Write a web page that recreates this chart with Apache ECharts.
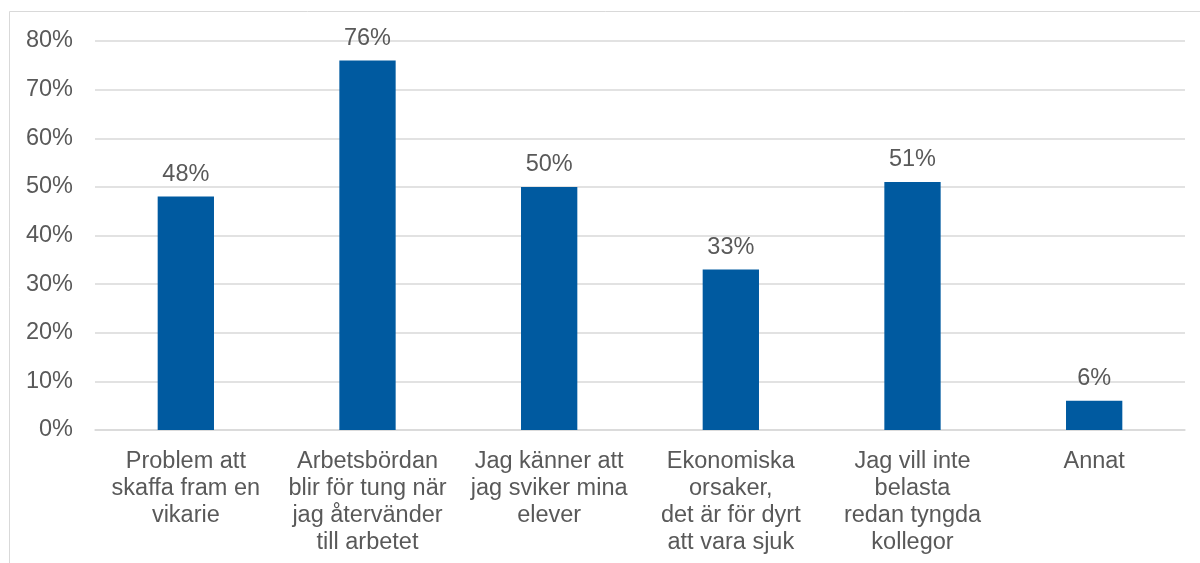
<!DOCTYPE html>
<html>
<head>
<meta charset="utf-8">
<script src="https://cdn.jsdelivr.net/npm/echarts@6/dist/echarts.min.js"></script>
<style>
  html, body { margin: 0; padding: 0; background: #fff; }
  #chart { width: 1200px; height: 563px; }
</style>
</head>
<body>
<div id="chart"></div>
<script>
const categories = [
  'Problem att\nskaffa fram en\nvikarie',
  'Arbetsbördan\nblir för tung när\njag återvänder\ntill arbetet',
  'Jag känner att\njag sviker mina\nelever',
  'Ekonomiska\norsaker,\ndet är för dyrt\natt vara sjuk',
  'Jag vill inte\nbelasta\nredan tyngda\nkollegor',
  'Annat'
]
const values = [48, 76, 50, 33, 51, 6]

const textColor = '#595959'
const font = 'Liberation Sans, Arial, sans-serif'

const chart = echarts.init(document.getElementById('chart'))
chart.setOption({
  animation: false,
  graphic: [{
    type: 'rect',
    shape: { x: 9.5, y: 11.5, width: 1300, height: 700 },
    style: { fill: 'none', stroke: '#d9d9d9', lineWidth: 1 },
    silent: true
  }],
  grid: { left: 95, right: 15, top: 41, bottom: 133 },
  xAxis: {
    type: 'category',
    data: categories,
    axisLine: { lineStyle: { color: '#d9d9d9', width: 1.5 } },
    axisTick: { show: false },
    axisLabel: {
      color: textColor, fontFamily: font, fontSize: 23.5, lineHeight: 27,
      margin: 18, interval: 0
    }
  },
  yAxis: {
    type: 'value',
    min: 0, max: 80, interval: 10,
    axisLine: { show: false },
    axisTick: { show: false },
    splitLine: { lineStyle: { color: '#d9d9d9', width: 1.5 } },
    axisLabel: {
      color: textColor, fontFamily: font, fontSize: 23.5, margin: 22,
      padding: [4, 0, 0, 0],
      formatter: (v) => v + '%'
    }
  },
  series: [{
    type: 'bar',
    data: values,
    barWidth: '31%',
    itemStyle: { color: '#005aa0' },
    label: {
      show: true, position: 'top', distance: 10,
      color: textColor, fontFamily: font, fontSize: 23.5,
      formatter: (p) => p.value + '%'
    }
  }]
})
</script>
</body>
</html>
